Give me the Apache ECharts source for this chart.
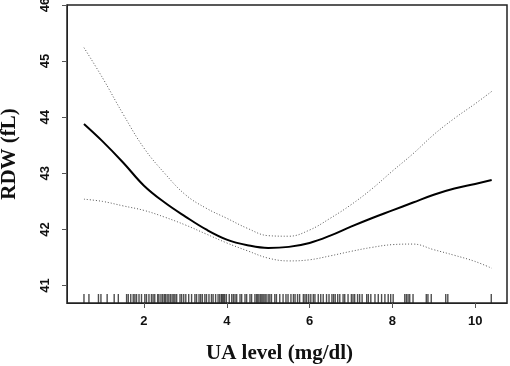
<!DOCTYPE html>
<html>
<head>
<meta charset="utf-8">
<script src="https://cdn.jsdelivr.net/npm/echarts@6/dist/echarts.min.js"></script>
<style>
    html, body { margin: 0; padding: 0; background: #fff; }
    #main { width: 510px; height: 366px; }
</style>
</head>
<body>
<div id="main"></div>
<script>
// 曲线数据 (UA, RDW)
var uaPoints = [0.55, 1, 1.5, 2, 2.5, 3, 3.5, 4, 4.5, 5, 5.5, 6, 6.5, 7, 7.5, 8, 8.5, 9, 9.5, 10, 10.4];
var fitValues = [43.88, 43.57, 43.19, 42.78, 42.48, 42.23, 42.00, 41.82, 41.72, 41.67, 41.69, 41.76, 41.89, 42.05, 42.20, 42.34, 42.48, 42.62, 42.73, 42.81, 42.88];
var upperValues = [45.24, 44.70, 44.05, 43.45, 43.00, 42.62, 42.38, 42.20, 42.02, 41.89, 41.88, 41.99, 42.20, 42.44, 42.72, 43.04, 43.35, 43.69, 43.98, 44.24, 44.46];
var lowerValues = [42.54, 42.50, 42.42, 42.34, 42.22, 42.08, 41.92, 41.76, 41.62, 41.49, 41.44, 41.46, 41.53, 41.61, 41.68, 41.73, 41.74, 41.64, 41.54, 41.43, 41.31];

// rug 观测值
var rugValues = [
    0.55, 0.67, 0.90, 0.96, 1.11, 1.28, 1.38, 1.58, 1.62, 1.68, 1.74, 1.78, 1.82, 1.88, 1.94,
    2.02, 2.06, 2.12, 2.18, 2.22, 2.26, 2.33, 2.36, 2.41, 2.45, 2.49, 2.52, 2.56, 2.60, 2.64,
    2.68, 2.72, 2.75, 2.79, 2.87, 2.91, 2.96, 3.01, 3.08, 3.15, 3.23, 3.27, 3.33, 3.37, 3.41,
    3.47, 3.51, 3.57, 3.63, 3.67, 3.73, 3.79, 3.83, 3.87, 3.89, 3.92, 3.95, 3.99, 4.06, 4.12,
    4.16, 4.20, 4.24, 4.32, 4.36, 4.44, 4.48, 4.56, 4.60, 4.68, 4.72, 4.75, 4.78, 4.82, 4.85,
    4.88, 4.92, 4.95, 5.00, 5.04, 5.08, 5.16, 5.20, 5.28, 5.36, 5.43, 5.48, 5.55, 5.61, 5.65,
    5.71, 5.76, 5.85, 5.89, 5.93, 5.98, 6.03, 6.09, 6.13, 6.21, 6.27, 6.33, 6.41, 6.47, 6.54,
    6.58, 6.62, 6.68, 6.73, 6.81, 6.85, 6.93, 7.01, 7.05, 7.09, 7.16, 7.21, 7.27, 7.38, 7.42,
    7.48, 7.58, 7.66, 7.74, 7.82, 7.90, 7.96, 8.02, 8.30, 8.34, 8.38, 8.42, 8.50, 8.82, 8.86,
    8.94, 9.29, 9.34, 10.39
];

var xTicks = [2, 4, 6, 8, 10];
var yTicks = [41, 42, 43, 44, 45, 46];

var pair = function (xs, ys) {
    return xs.map(function (x, i) { return [x, ys[i]]; });
};

var myChart = echarts.init(document.getElementById('main'));

var titleFont = {
    fontFamily: 'Liberation Serif, Times New Roman, serif',
    fontWeight: 'bold',
    fontSize: 21,
    color: '#111'
};

var option = {
    animation: false,
    backgroundColor: '#fff',
    grid: {
        left: 67,
        right: 3,
        top: 5,
        bottom: 63,
        outerBoundsMode: 'none',
        show: true,
        borderColor: '#222',
        borderWidth: 1.5
    },
    xAxis: {
        type: 'value',
        min: 0.14,
        max: 10.77,
        name: 'UA level (mg/dl)',
        nameLocation: 'middle',
        nameGap: 40,
        nameTextStyle: Object.assign({ padding: [0, 15, 0, 0] }, titleFont),
        splitLine: { show: false },
        axisLine: { show: true, lineStyle: { color: '#222' } },
        axisTick: { show: true, customValues: xTicks, lineStyle: { color: '#555' } },
        axisLabel: { margin: 12, customValues: xTicks, fontWeight: 'bold', fontSize: 13, color: '#111' }
    },
    yAxis: [
        {
            // 刻度轴
            type: 'value',
            min: 40.69,
            max: 46,
            splitLine: { show: false },
            axisLine: { show: true, lineStyle: { color: '#222' } },
            axisTick: { show: true, customValues: yTicks, lineStyle: { color: '#555' } },
            axisLabel: { margin: 15, rotate: 90, customValues: yTicks, fontWeight: 'bold', fontSize: 13, color: '#111' }
        },
        {
            // 只放轴标题
            type: 'value',
            position: 'left',
            min: 40.69,
            max: 46,
            name: 'RDW (fL)',
            nameLocation: 'middle',
            nameGap: 47,
            nameTextStyle: titleFont,
            splitLine: { show: false },
            axisLine: { show: false },
            axisTick: { show: false },
            axisLabel: { show: false }
        }
    ],
    series: [
        {
            name: 'upper',
            type: 'line',
            data: pair(uaPoints, upperValues),
            smooth: 0.4,
            symbol: 'none',
            lineStyle: { color: '#555', width: 1, type: [1, 2] }
        },
        {
            name: 'lower',
            type: 'line',
            data: pair(uaPoints, lowerValues),
            smooth: 0.4,
            symbol: 'none',
            lineStyle: { color: '#555', width: 1, type: [1, 2] }
        },
        {
            name: 'fit',
            type: 'line',
            data: pair(uaPoints, fitValues),
            smooth: 0.4,
            symbol: 'none',
            lineStyle: { color: '#000', width: 2 }
        },
        {
            name: 'rug',
            type: 'scatter',
            data: rugValues.map(function (v) { return [v, 40.77]; }),
            symbol: 'rect',
            symbolSize: [1.4, 9],
            silent: true,
            itemStyle: { color: '#222' }
        }
    ]
};

myChart.setOption(option);
</script>
</body>
</html>
